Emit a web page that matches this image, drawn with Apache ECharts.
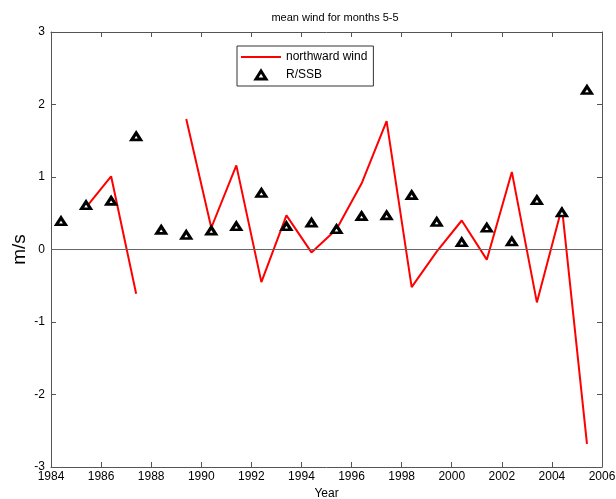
<!DOCTYPE html>
<html>
<head>
<meta charset="utf-8">
<script src="https://cdn.jsdelivr.net/npm/echarts@6/dist/echarts.min.js"></script>
<style>
  html, body { margin: 0; padding: 0; background: #fff; }
  #chart-container { width: 616px; height: 499px; }
</style>
</head>
<body>
<div id="chart-container"></div>
<script>
var dom = document.getElementById("chart-container");
var myChart = echarts.init(dom, null, { renderer: "canvas" });

// data, one value per year (month 5)
const years = [1984, 1985, 1986, 1987, 1988, 1989, 1990, 1991, 1992, 1993, 1994,
  1995, 1996, 1997, 1998, 1999, 2000, 2001, 2002, 2003, 2004, 2005];
const monthOffset = 0.4;
const northwardWind = [null, 0.58, 1.01, -0.61, null, 1.80, 0.30, 1.16, -0.45, 0.47, -0.04,
  0.28, 0.91, 1.77, -0.52, -0.03, 0.40, -0.14, 1.07, -0.73, 0.58, -2.68];
const rssb = [0.39, 0.61, 0.67, 1.56, 0.27, 0.20, 0.26, 0.32, 0.78, 0.32, 0.37,
  0.28, 0.46, 0.47, 0.75, 0.38, 0.10, 0.30, 0.11, 0.68, 0.51, 2.20];
const xTicks = [1984, 1986, 1988, 1990, 1992, 1994, 1996, 1998, 2000, 2002, 2004, 2006];
const yTicks = [-3, -2, -1, 0, 1, 2, 3];

const axisColor = "#555";
const font = "Arial, 'Liberation Sans', sans-serif";

function pairs(vals) {
  return years.map(function (y, i) {
    return [y + monthOffset, vals[i]];
  });
}

function baseX(show) {
  return {
    type: "value",
    min: xTicks[0],
    max: xTicks[xTicks.length - 1],
    interval: 2,
    axisLine: { show: true, onZero: false, lineStyle: { color: axisColor, width: 1 } },
    axisTick: { show: true, inside: true, length: 5, lineStyle: { color: axisColor } },
    axisLabel: {
      show: show, color: "#000", fontFamily: font, fontSize: 12, margin: 4,
      formatter: function (v) { return String(v); },
    },
    splitLine: { show: false },
  };
}

function baseY(show) {
  return {
    type: "value",
    min: yTicks[0],
    max: yTicks[yTicks.length - 1],
    interval: 1,
    axisLine: { show: true, onZero: false, lineStyle: { color: axisColor, width: 1 } },
    axisTick: { show: true, inside: true, length: 5, lineStyle: { color: axisColor } },
    axisLabel: {
      show: show, color: "#000", fontFamily: font, fontSize: 12, margin: 6,
      formatter: function (v) { return String(v); },
    },
    splitLine: { show: false },
  };
}

var xBottom = baseX(true);
xBottom.position = "bottom";
xBottom.name = "Year";
xBottom.nameLocation = "middle";
xBottom.nameGap = 19;
xBottom.nameTextStyle = { color: "#000", fontFamily: font, fontSize: 12 };

var xTop = baseX(false);
xTop.position = "top";

var yLeft = baseY(true);
yLeft.position = "left";
yLeft.name = "m/s";
yLeft.nameLocation = "middle";
yLeft.nameGap = 22;
yLeft.nameMoveOverlap = false;
yLeft.nameTextStyle = { color: "#000", fontFamily: font, fontSize: 19 };

var yRight = baseY(false);
yRight.position = "right";

var markerStyle = { color: "#fff", borderColor: "#000", borderWidth: 3, opacity: 1 };

var option = {
  animation: false,
  backgroundColor: "#fff",
  title: {
    text: "mean wind for months 5-5",
    left: 330,
    textAlign: "center",
    top: 7,
    textStyle: { color: "#000", fontFamily: font, fontSize: 11, fontWeight: "normal" },
  },
  legend: {
    orient: "vertical",
    left: 237,
    top: 46,
    padding: [5, 6, 5, 4],
    itemGap: 6,
    itemWidth: 40,
    itemHeight: 8,
    symbolKeepAspect: true,
    borderColor: "#333",
    borderWidth: 1,
    textStyle: { color: "#000", fontFamily: font, fontSize: 12, padding: [0, 0, 0, 0] },
    data: [
      { name: "northward wind", icon: "path://M0,0L40,0L40,2L0,2Z" },
      { name: "R/SSB", icon: "path://M5,0L10,8L0,8Z", itemStyle: markerStyle },
    ],
  },
  grid: { left: 51, right: 14, top: 32, bottom: 32, outerBoundsMode: "none" },
  xAxis: [xBottom, xTop],
  yAxis: [yLeft, yRight],
  series: [
    {
      name: "northward wind",
      type: "line",
      data: pairs(northwardWind),
      symbol: "none",
      connectNulls: false,
      lineStyle: { color: "#ff0000", width: 2 },
      itemStyle: { color: "#ff0000" },
      markLine: {
        silent: true,
        symbol: "none",
        label: { show: false },
        lineStyle: { color: "#666", width: 1, type: "solid" },
        data: [{ yAxis: 0 }],
      },
      z: 2,
    },
    {
      name: "R/SSB",
      type: "scatter",
      data: pairs(rssb),
      symbol: "triangle",
      symbolSize: [9, 7],
      itemStyle: markerStyle,
      z: 3,
    },
  ],
};

myChart.setOption(option);
window.addEventListener("resize", myChart.resize);
</script>
</body>
</html>
